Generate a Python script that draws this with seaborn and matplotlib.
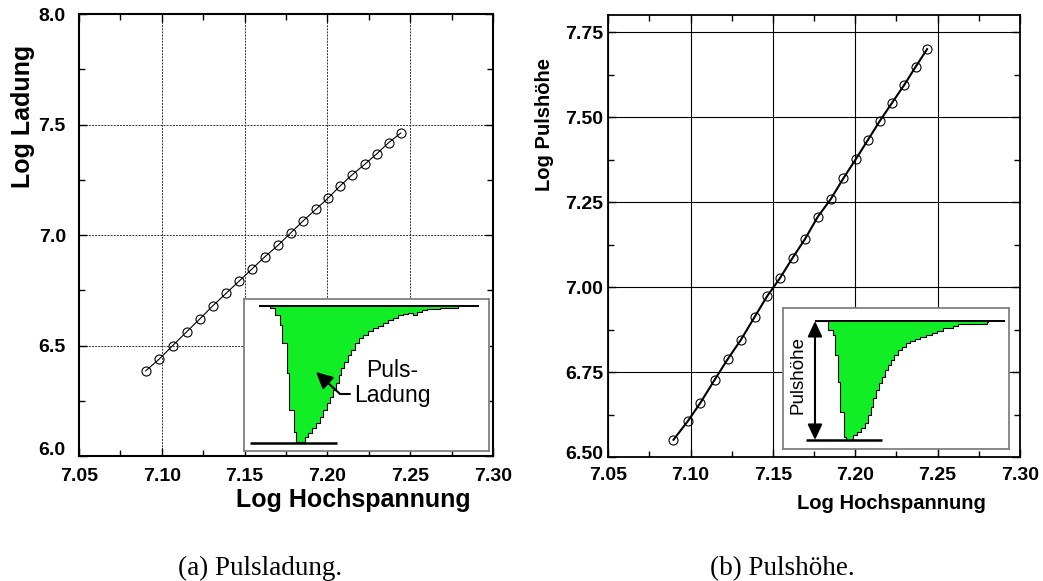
import matplotlib
matplotlib.use("Agg")
import matplotlib.pyplot as plt
from matplotlib.patches import ArrowStyle
from matplotlib.ticker import MultipleLocator, FormatStrFormatter
from matplotlib.transforms import ScaledTranslation
import pandas as pd
import seaborn as sns

# --- measured characteristics (log10 scale) ---------------------------------
charge_logU = [7.0902, 7.0985, 7.1065, 7.1150, 7.1228, 7.1307, 7.1388, 7.1468,
               7.1547, 7.1623, 7.1704, 7.1778, 7.1855, 7.1930, 7.2004, 7.2078,
               7.2150, 7.2227, 7.2299, 7.2370, 7.2444]
charge_logQ = [6.385, 6.439, 6.499, 6.562, 6.619, 6.679, 6.736, 6.792, 6.848,
               6.902, 6.955, 7.009, 7.065, 7.116, 7.167, 7.223, 7.273, 7.321,
               7.368, 7.418, 7.462]

height_logU = [7.0895, 7.0984, 7.1059, 7.1146, 7.1227, 7.1306, 7.1389, 7.1465,
               7.1544, 7.1620, 7.1696, 7.1773, 7.1852, 7.1927, 7.2002, 7.2075,
               7.2150, 7.2224, 7.2297, 7.2366, 7.2437]
height_logH = [6.551, 6.607, 6.660, 6.728, 6.790, 6.846, 6.913, 6.974, 7.028,
               7.087, 7.143, 7.208, 7.260, 7.320, 7.376, 7.432, 7.490, 7.543,
               7.595, 7.648, 7.701]

# --- sketch pulses for the insets (time in samples, amplitude in counts) ----
qpulse_t = [0, 11, 16, 21, 23, 28, 30, 35, 37, 46, 49, 53, 57, 61, 64, 68, 71,
            74, 77, 80, 82, 85, 89, 92, 96, 100, 104, 109, 114, 119, 124, 129,
            134, 139, 144, 149, 154, 158, 163, 168, 181, 199]
qpulse_a = [0, -2, -9, -19, -37, -67, -104, -126, -136, -131, -127, -122, -117,
            -111, -104, -97, -91, -84, -77, -69, -62, -56, -49, -44, -37, -32,
            -29, -25, -22, -20, -17, -14, -12, -9, -8, -7, -9, -6, -4, -3, -2, 0]

hpulse_t = [0, 13, 18, 20, 23, 25, 29, 31, 38, 42, 46, 50, 53, 56, 58, 61, 64,
            67, 70, 73, 76, 79, 83, 87, 91, 95, 100, 105, 111, 117, 122, 128,
            133, 138, 143, 155, 172, 173]
hpulse_a = [0, -9, -14, -34, -61, -91, -116, -119, -114, -111, -107, -102, -94,
            -86, -77, -69, -62, -56, -49, -44, -39, -34, -29, -26, -22, -20,
            -18, -16, -14, -12, -10, -7, -7, -5, -3, -3, -1, 0]

x_ticks = [7.05, 7.10, 7.15, 7.20, 7.25, 7.30]

sns.set_theme(style="ticks")
plt.rcParams["font.family"] = ["Liberation Sans", "DejaVu Sans"]
plt.rcParams["font.weight"] = "bold"
for key in ("text.color", "axes.labelcolor", "xtick.color", "ytick.color",
            "xtick.labelcolor", "ytick.labelcolor", "axes.edgecolor"):
    plt.rcParams[key] = "black"

fig = plt.figure(figsize=(10.43, 5.81), dpi=100)
ax_q = fig.add_axes([0.0757, 0.2151, 0.3970, 0.7608])
ax_h = fig.add_axes([0.5832, 0.2129, 0.3947, 0.7608])

GREEN = "#12ee26"


def style_axes(ax, ylim, ymajor, yfmt, spine_w, ypad, xpad):
    ax.set_xlim(7.05, 7.30)
    ax.set_ylim(*ylim)
    ax.xaxis.set_major_locator(MultipleLocator(0.05))
    ax.xaxis.set_minor_locator(MultipleLocator(0.025))
    ax.yaxis.set_major_locator(MultipleLocator(ymajor))
    ax.yaxis.set_minor_locator(MultipleLocator(ymajor / 2))
    ax.xaxis.set_major_formatter(FormatStrFormatter("%.2f"))
    ax.yaxis.set_major_formatter(FormatStrFormatter(yfmt))
    ax.tick_params(which="both", direction="in", top=True, right=True,
                   width=1.0, color="black")
    ax.tick_params(which="major", length=6)
    ax.tick_params(which="minor", length=4)
    ax.tick_params(axis="y", which="major", labelsize=14, pad=ypad,
                   labelcolor="black")
    ax.tick_params(axis="x", which="major", labelsize=14, pad=xpad,
                   labelcolor="black")
    for s in ax.spines.values():
        s.set_linewidth(spine_w)
        s.set_color("black")
    ax.set_xlabel("")
    ax.set_ylabel("")


def lift_bottom_ylabel(ax, px):
    # nudge the lowest y tick label upward so it clears the x tick labels
    ticks = ax.yaxis.get_major_ticks()
    lab = ticks[0].label1
    lab.set_transform(lab.get_transform()
                      + ScaledTranslation(0, px / fig.dpi, fig.dpi_scale_trans))


# --- (a) pulse charge ---------------------------------------------------------
df_q = pd.DataFrame({"logU": charge_logU, "logQ": charge_logQ})
sns.lineplot(data=df_q, x="logU", y="logQ", ax=ax_q, color="black",
             linewidth=0.8, marker="o", markersize=6.5, markerfacecolor="none",
             markeredgecolor="black", markeredgewidth=0.8, sort=False,
             errorbar=None)
style_axes(ax_q, (6.0, 8.0), 0.5, "%.1f", 1.5, 9.5, 8.5)
ax_q.set_xticks(x_ticks)
ax_q.set_yticks([6.0, 6.5, 7.0, 7.5, 8.0])
lift_bottom_ylabel(ax_q, 8)
ax_q.grid(True, which="major", color="#333333", linestyle=(0, (2.0, 1.2)),
          linewidth=0.7)
ax_q.set_axisbelow(True)
ax_q.text(-0.135, 0.768, "Log Ladung", transform=ax_q.transAxes, rotation=90,
          ha="center", va="center", fontsize=18, fontweight="bold")
ax_q.text(0.662, -0.0995, "Log Hochspannung", transform=ax_q.transAxes,
          ha="center", va="center", fontsize=18, fontweight="bold")

# --- (b) pulse height ---------------------------------------------------------
df_h = pd.DataFrame({"logU": height_logU, "logH": height_logH})
sns.lineplot(data=df_h, x="logU", y="logH", ax=ax_h, color="black",
             linewidth=1.5, marker="o", markersize=6.5, markerfacecolor="none",
             markeredgecolor="black", markeredgewidth=0.8, sort=False,
             errorbar=None)
style_axes(ax_h, (6.5, 7.80), 0.25, "%.2f", 1.3, 3.6, 6.8)
ax_h.set_xticks(x_ticks)
ax_h.set_yticks([6.50, 6.75, 7.00, 7.25, 7.50, 7.75])
lift_bottom_ylabel(ax_h, 5)
ax_h.grid(True, which="major", color="black", linestyle="-", linewidth=0.8)
ax_h.set_axisbelow(True)
ax_h.text(-0.156, 0.754, "Log Pulshöhe", transform=ax_h.transAxes, rotation=90,
          ha="center", va="center", fontsize=14.5, fontweight="bold")
ax_h.text(0.689, -0.1034, "Log Hochspannung", transform=ax_h.transAxes,
          ha="center", va="center", fontsize=14.5, fontweight="bold")


# --- inset sketches -----------------------------------------------------------
def make_inset(rect, xlim, ylim):
    ins = fig.add_axes(rect)
    ins.set_xlim(*xlim)
    ins.set_ylim(*ylim)
    ins.set_xticks([])
    ins.set_yticks([])
    ins.set_facecolor("white")
    for s in ins.spines.values():
        s.set_color("#808080")
        s.set_linewidth(1.3)
    return ins


def draw_pulse(ins, t, a, base_end, floor, floor_span):
    ins.fill_between(t, a, 0, step="post", color=GREEN, linewidth=0)
    ins.step(t, a, where="post", color="black", linewidth=0.8)
    ins.plot([0, base_end], [0, 0], color="black", linewidth=1.4,
             solid_capstyle="butt")
    ins.plot(floor_span, [floor, floor], color="black", linewidth=1.8,
             solid_capstyle="butt")


ins_q = make_inset([0.2335, 0.2238, 0.2349, 0.2616], (-15.5, 229.5), (-145, 7))
draw_pulse(ins_q, qpulse_t, qpulse_a, 220, min(qpulse_a) - 1, [-9, 78])
ins_q.text(133, -71, "Puls-", ha="center", va="baseline", fontsize=16.5,
           fontweight="normal")
ins_q.text(133, -96, "Ladung", ha="center", va="baseline", fontsize=16.5,
           fontweight="normal")
ins_q.plot([81, 91], [-88, -88], color="black", linewidth=1.5)
ins_q.annotate("", xy=(57, -66), xytext=(81, -88),
               arrowprops=dict(arrowstyle=ArrowStyle("-|>", head_length=0.5,
                                                     head_width=0.25),
                               color="black", lw=1.5, mutation_scale=20,
                               shrinkA=0, shrinkB=0))

ins_h = make_inset([0.7510, 0.2272, 0.2167, 0.2422], (-31.7, 194.3), (-128, 12.7))
draw_pulse(ins_h, hpulse_t, hpulse_a, 190, min(hpulse_a), [-9, 67])
ins_h.annotate("", xy=(0, 0), xytext=(0, min(hpulse_a)),
               arrowprops=dict(arrowstyle=ArrowStyle("<|-|>", head_length=0.47,
                                                     head_width=0.22),
                               color="black", lw=1.5, mutation_scale=20,
                               shrinkA=0, shrinkB=0))
ins_h.text(-17, -54, "Pulshöhe", rotation=90, ha="center", va="center",
           fontsize=13.5, fontweight="normal")

# --- sub-captions -------------------------------------------------------------
fig.text(0.2493, 0.0103, "(a) Pulsladung.", ha="center", va="baseline",
         fontsize=19.5, fontweight="normal", family="Liberation Serif")
fig.text(0.7502, 0.0103, "(b) Pulshöhe.", ha="center", va="baseline",
         fontsize=19.5, fontweight="normal", family="Liberation Serif")

fig.savefig("out.png", dpi=100)
